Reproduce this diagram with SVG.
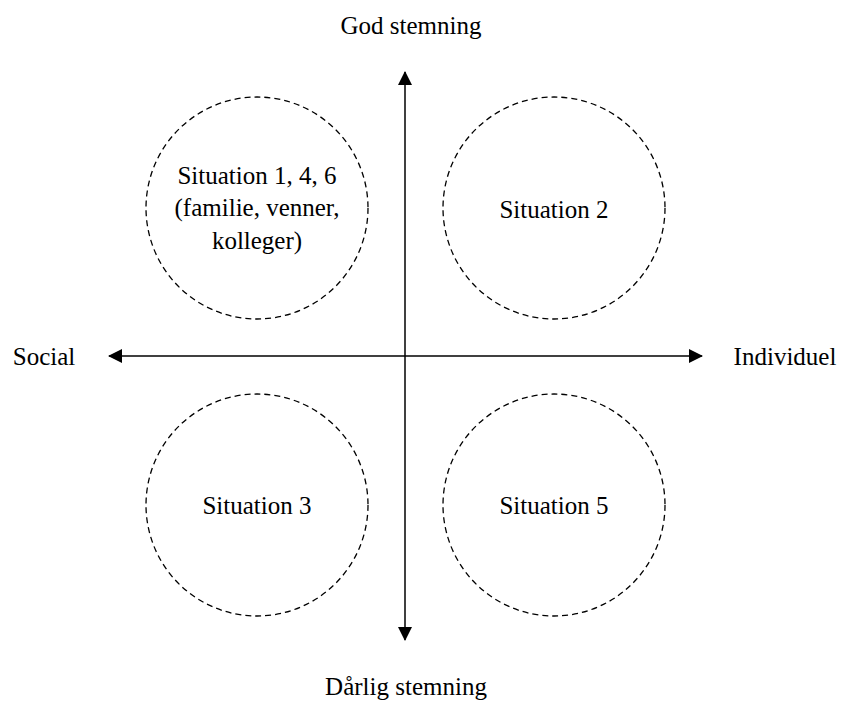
<svg xmlns="http://www.w3.org/2000/svg" width="842" height="702" viewBox="0 0 842 702">
<style>
text{font-family:"Liberation Serif","Times New Roman",serif;font-size:25px;fill:#000;text-anchor:middle}
.c{fill:none;stroke:#000;stroke-width:1.3;stroke-dasharray:6 4}
.ax{stroke:#000;stroke-width:1.5;fill:none}
</style>
<defs>
<marker id="ah" markerUnits="userSpaceOnUse" markerWidth="14" markerHeight="14" viewBox="0 0 14 14" refX="13" refY="7" orient="auto">
<path d="M0,0 L14,7 L0,14 Z" fill="#000"/>
</marker>
</defs>
<rect width="842" height="702" fill="#fff"/>
<g id="connectors">
<line class="ax" x1="405" y1="356" x2="405" y2="72" marker-end="url(#ah)"/>
<line class="ax" x1="405" y1="356" x2="405" y2="640" marker-end="url(#ah)"/>
<line class="ax" x1="405" y1="356" x2="109" y2="356" marker-end="url(#ah)"/>
<line class="ax" x1="405" y1="356" x2="702" y2="356" marker-end="url(#ah)"/>
</g>
<g id="label-top"><text x="411" y="34">God stemning</text></g>
<g id="label-bottom"><text x="406" y="695">Dårlig stemning</text></g>
<g id="label-left"><text x="44" y="365">Social</text></g>
<g id="label-right"><text x="785" y="365">Individuel</text></g>
<g id="node-tl">
<circle class="c" cx="257" cy="208" r="111"/>
<text x="257" y="184">Situation 1, 4, 6</text>
<text x="257" y="216">(familie, venner,</text>
<text x="257" y="249">kolleger)</text>
</g>
<g id="node-tr">
<circle class="c" cx="554" cy="208" r="111"/>
<text x="554" y="218">Situation 2</text>
</g>
<g id="node-bl">
<circle class="c" cx="257" cy="505" r="111"/>
<text x="257" y="514">Situation 3</text>
</g>
<g id="node-br">
<circle class="c" cx="554" cy="505" r="111"/>
<text x="554" y="514">Situation 5</text>
</g>
</svg>
